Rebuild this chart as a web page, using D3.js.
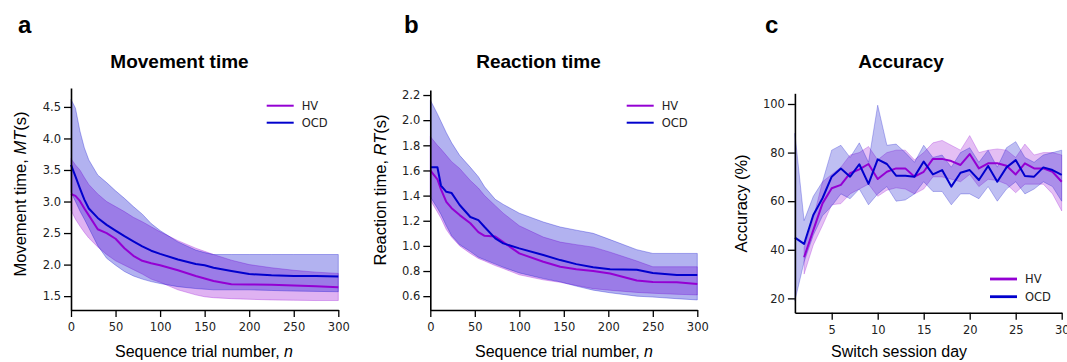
<!DOCTYPE html>
<html><head><meta charset="utf-8">
<script src="https://cdn.jsdelivr.net/npm/d3@7"></script>
<style>body{margin:0;background:#fff} svg{display:block}</style>
</head><body><svg id="c" width="1067" height="362"></svg>
<script>
// ---------- Panel a: Movement time ----------
const nA = [0,5,10,15,20,30,40,50,60,70,80,90,100,120,140,150,160,180,200,225,250,275,300];
const mtHVMean = [3.12,3.09,3.01,2.89,2.78,2.56,2.50,2.41,2.26,2.14,2.06,2.02,1.99,1.91,1.82,1.78,1.74,1.69,1.685,1.68,1.67,1.655,1.64];
const mtHVHi   = [3.68,3.58,3.50,3.38,3.27,3.12,3.00,2.92,2.84,2.75,2.68,2.60,2.52,2.38,2.26,2.21,2.16,2.07,2.00,1.95,1.91,1.88,1.86];
const mtHVLo   = [2.86,2.72,2.61,2.51,2.42,2.28,2.16,2.06,1.99,1.92,1.85,1.77,1.72,1.60,1.52,1.49,1.475,1.46,1.45,1.44,1.435,1.43,1.43];
const mtOCDMean= [3.58,3.40,3.21,3.03,2.89,2.74,2.63,2.54,2.45,2.37,2.29,2.22,2.17,2.08,2.01,1.99,1.95,1.90,1.85,1.83,1.82,1.82,1.81];
const mtOCDHi  = [4.62,4.48,4.12,3.85,3.66,3.42,3.30,3.17,3.05,2.92,2.80,2.65,2.54,2.36,2.23,2.19,2.16,2.16,2.16,2.16,2.16,2.16,2.16];
const mtOCDLo  = [3.15,3.00,2.85,2.72,2.58,2.30,2.10,1.99,1.89,1.82,1.77,1.73,1.70,1.65,1.62,1.61,1.60,1.60,1.60,1.59,1.58,1.575,1.57];
const mtYTicks = [1.5,2.0,2.5,3.0,3.5,4.0,4.5];

// ---------- Panel b: Reaction time ----------
const nB = [0,8,12,18,24,33,45,54,61,73,82,100,127,146,164,183,202,232,250,277,300];
const rtHVMean = [1.60,1.53,1.45,1.35,1.30,1.245,1.18,1.11,1.08,1.075,1.03,0.94,0.874,0.834,0.815,0.80,0.78,0.725,0.712,0.71,0.696];
const rtHVHi   = [1.87,1.80,1.77,1.72,1.67,1.616,1.52,1.46,1.40,1.32,1.26,1.16,1.07,1.03,1.01,0.99,0.95,0.88,0.834,0.834,0.834];
const rtHVLo   = [1.365,1.27,1.22,1.13,1.07,1.00,0.94,0.90,0.88,0.843,0.82,0.77,0.73,0.71,0.685,0.66,0.647,0.63,0.623,0.615,0.61];
const rtOCDMean= [1.625,1.625,1.48,1.43,1.42,1.325,1.23,1.205,1.15,1.06,1.02,0.98,0.927,0.887,0.855,0.83,0.815,0.81,0.785,0.768,0.768];
const rtOCDHi  = [2.16,2.05,1.99,1.90,1.82,1.72,1.625,1.55,1.47,1.37,1.33,1.26,1.19,1.15,1.125,1.10,1.05,0.97,0.94,0.94,0.94];
const rtOCDLo  = [1.39,1.30,1.25,1.16,1.08,1.01,0.955,0.91,0.89,0.855,0.83,0.785,0.74,0.714,0.68,0.648,0.627,0.60,0.593,0.58,0.57];
const rtYTicks = [0.6,0.8,1.0,1.2,1.4,1.6,1.8,2.0,2.2];

const nTicks = [0,50,100,150,200,250,300];

// ---------- Panel c: Accuracy ----------
const days = [1,2,3,4,5,6,7,8,9,10,11,12,13,14,15,16,17,18,19,20,21,22,23,24,25,26,27,28,29,30];
const accHVMean = [null,36.9,48.1,59.1,65.3,66.7,71.5,73.1,75.3,69.1,72.1,73.5,73.5,70.1,72.1,77.4,77.4,76.5,74.9,79.4,73.5,75.6,75.6,74.6,71.0,75.6,73.5,73.5,72.1,68.0];
const accHVHi   = [null,41,53,68,71,74,79,80,82.5,77,80,81,81,77,80,84,85,83,81,87,80,81,81.5,81,78,83.5,79,80,80,79];
const accHVLo   = [null,30,42,50,58.5,59,63,65,67,62,64.5,65.5,65,63,65,70,70,69,68,71,66,69,68.5,67,63.5,67,67,67,63,56];
const accOCDMean= [45.0,42.4,54.3,61.2,70.1,73.4,70.1,75.2,67.1,77.2,75.3,70.5,70.5,70.1,76.3,71.0,72.8,66.0,71.7,72.8,68.7,74.5,68.0,73.9,76.9,70.4,70.1,73.9,72.8,70.8];
const accOCDHi  = [88,52,62,68,81,83,78,84,76,99.5,83,83.5,80,76,83,78,79,74,80,82,76,81,74,82,84.5,78,76,79,80,81];
const accOCDLo  = [19,35,46,54,58,63,61,65,58.5,63,66,60,60.5,63,68,64,64,58.5,63,63,61,66,60,65,68,63,65,68,66,60];
const dayTicks = [5,10,15,20,25,30];
const accYTicks = [20,40,60,80,100];

const groups = ["HV","OCD"];
const colors = {HV:"#9400D3", OCD:"#0000CD"};

const svg = d3.select("#c");
const tickFont = "'DejaVu Sans', sans-serif";
const labFont = "'Liberation Sans', Arial, sans-serif";

function zip(xs, lo, mid, hi){
  return xs.map((x,i)=>({x, lo:lo[i], m:mid[i], hi:hi[i]}));
}

function panel(cfg){
  const x = d3.scaleLinear().domain(cfg.xDom).range(cfg.xR);
  const y = d3.scaleLinear().domain(cfg.yDom).range(cfg.yR);
  const g = svg.append("g");
  const area = d3.area().defined(d=>d.lo!=null).x(d=>x(d.x)).y0(d=>y(d.lo)).y1(d=>y(d.hi));
  const line = d3.line().defined(d=>d.m!=null).x(d=>x(d.x)).y(d=>y(d.m));
  cfg.series.forEach(s=>{
    g.append("path").datum(s.data).attr("d",area)
      .attr("fill",colors[s.name]).attr("fill-opacity",cfg.alpha)
      .attr("stroke",colors[s.name]).attr("stroke-opacity",cfg.alpha).attr("stroke-width",1);
  });
  cfg.series.forEach(s=>{
    g.append("path").datum(s.data).attr("d",line)
      .attr("fill","none").attr("stroke",colors[s.name]).attr("stroke-width",2)
      .attr("stroke-linejoin","round");
  });
  const ax = g.append("g").attr("transform",`translate(0,${cfg.yR[0]})`)
    .call(d3.axisBottom(x).tickValues(cfg.xTicks).tickSize(7).tickSizeOuter(0).tickPadding(6).tickFormat(d3.format("d")));
  const ay = g.append("g").attr("transform",`translate(${cfg.xR[0]},0)`)
    .call(d3.axisLeft(y).tickValues(cfg.yTicks).tickSize(7).tickSizeOuter(0).tickPadding(3).tickFormat(d3.format(cfg.yFmt)));
  [ax,ay].forEach(a=>{
    a.select(".domain").attr("stroke","#000").attr("stroke-width",1.6);
    a.selectAll(".tick line").attr("stroke","#000").attr("stroke-width",1.3);
    a.selectAll(".tick text").attr("fill","#222").style("font-family",tickFont).style("font-size","11.5px");
  });
  // legend
  const L = cfg.legend;
  groups.forEach((k,i)=>{
    const yy = L.y + i*L.dy;
    g.append("line").attr("x1",L.x).attr("x2",L.x+27).attr("y1",yy).attr("y2",yy)
      .attr("stroke",colors[k]).attr("stroke-width",L.w);
    g.append("text").attr("x",L.x+35).attr("y",yy+4.2).text(k)
      .style("font-family",tickFont).style("font-size","11.5px").attr("fill","#222");
  });
  // titles & labels
  svg.append("text").attr("x",cfg.letter[0]).attr("y",cfg.letter[1]).text(cfg.letterText)
    .style("font-family",labFont).style("font-weight","bold").style("font-size","24px");
  svg.append("text").attr("x",cfg.title[0]).attr("y",68).attr("text-anchor","middle").text(cfg.titleText)
    .style("font-family",labFont).style("font-weight","bold").style("font-size","19px");
  const xl = svg.append("text").attr("x",cfg.xlab[0]).attr("y",357).attr("text-anchor","middle")
    .style("font-family",labFont).style("font-size","16px");
  cfg.xlabParts.forEach(p=>xl.append("tspan").text(p[0]).style("font-style",p[1]?"italic":"normal"));
  const yl = svg.append("text").attr("text-anchor","middle")
    .attr("transform",`translate(${cfg.ylab[0]},${cfg.ylab[1]}) rotate(-90)`)
    .style("font-family",labFont).style("font-size","16.5px");
  cfg.ylabParts.forEach(p=>yl.append("tspan").text(p[0]).style("font-style",p[1]?"italic":"normal"));
}

panel({
  xDom:[0,300], xR:[71,338.3], yDom:[1.28,4.8], yR:[310,88],
  xTicks:nTicks, yTicks:mtYTicks, yFmt:".1f", alpha:0.3,
  series:[{name:"HV",data:zip(nA,mtHVLo,mtHVMean,mtHVHi)},{name:"OCD",data:zip(nA,mtOCDLo,mtOCDMean,mtOCDHi)}],
  legend:{x:266.7,y:105.7,dy:17,w:2},
  letter:[18,33], letterText:"a", title:[179.5], titleText:"Movement time",
  xlab:[204], xlabParts:[["Sequence trial number, ",false],["n",true]],
  ylab:[25.5,194], ylabParts:[["Movement time, ",false],["MT",true],["(s)",false]]
});
panel({
  xDom:[0,300], xR:[430.3,697.3], yDom:[0.49,2.24], yR:[310,90],
  xTicks:nTicks, yTicks:rtYTicks, yFmt:".1f", alpha:0.3,
  series:[{name:"HV",data:zip(nB,rtHVLo,rtHVMean,rtHVHi)},{name:"OCD",data:zip(nB,rtOCDLo,rtOCDMean,rtOCDHi)}],
  legend:{x:626.7,y:105.7,dy:17,w:2},
  letter:[404,33], letterText:"b", title:[538.5], titleText:"Reaction time",
  xlab:[564], xlabParts:[["Sequence trial number, ",false],["n",true]],
  ylab:[385.5,190], ylabParts:[["Reaction time, ",false],["RT",true],["(s)",false]]
});
panel({
  xDom:[1,30], xR:[794.9,1061.7], yDom:[14.1,104.4], yR:[312.7,93.3],
  xTicks:dayTicks, yTicks:accYTicks, yFmt:"d", alpha:0.25,
  series:[{name:"HV",data:zip(days,accHVLo,accHVMean,accHVHi)},{name:"OCD",data:zip(days,accOCDLo,accOCDMean,accOCDHi)}],
  legend:{x:990,y:279,dy:17.7,w:2.8},
  letter:[765,33], letterText:"c", title:[901], titleText:"Accuracy",
  xlab:[899], xlabParts:[["Switch session day",false]],
  ylab:[747,203.5], ylabParts:[["Accuracy (%)",false]]
});
</script>
</body></html>
